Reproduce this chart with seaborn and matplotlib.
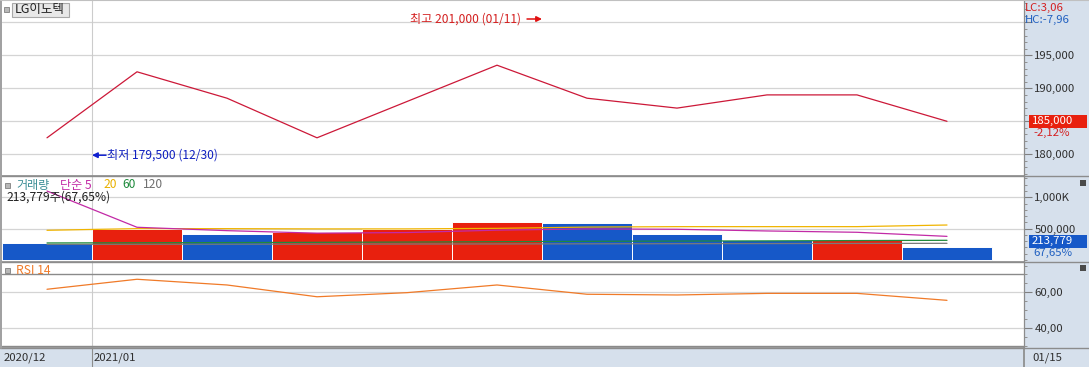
import numpy as np
import pandas as pd
import matplotlib
matplotlib.use('Agg')
import matplotlib.pyplot as plt
import matplotlib.transforms as mtransforms
import seaborn as sns
from matplotlib.ticker import FixedLocator, MultipleLocator
from matplotlib.lines import Line2D
from matplotlib.patches import Rectangle

# ---------------- data ----------------
stock_name = 'LG이노텍'
dates = ['12/30', '01/04', '01/05', '01/06', '01/07', '01/08',
         '01/11', '01/12', '01/13', '01/14', '01/15']
months = ['2020/12', '2021/01', '2021/01', '2021/01', '2021/01', '2021/01',
          '2021/01', '2021/01', '2021/01', '2021/01', '2021/01']
close = [182500, 192500, 188500, 182500, 188000, 193500,
         188500, 187000, 189000, 189000, 185000]
volume = [271000, 500000, 410000, 442000, 490000, 607000,
          591000, 420000, 319000, 316000, 213779]
vol_dir = ['down', 'up', 'down', 'up', 'up', 'up',
           'down', 'down', 'down', 'up', 'down']
ma5 = [1100000, 522000, 468000, 428000, 438000, 476000,
       496000, 490000, 463000, 442000, 377000]
ma20 = [474000, 500000, 500000, 496000, 496000, 505000,
        525000, 532000, 532000, 532000, 558000]
ma60 = [272000, 275000, 278000, 282000, 286000, 292000,
        298000, 302000, 305000, 310000, 314000]
ma120 = [250000, 251000, 252000, 253000, 255000, 256000,
         258000, 260000, 262000, 264000, 266000]
rsi = [61.7, 67.3, 64.1, 57.5, 59.8, 64.1, 58.9, 58.5, 59.4, 59.4, 55.5]

high_val, high_date = 201000, '01/11'
low_val, low_date = 179500, '12/30'
last_change = '-2,12%'
vol_change = '67,65%'
lc_text = 'LC:3,06'
hc_text = 'HC:-7,96'
price_ticks = [180000, 185000, 190000, 195000, 200000]
price_labels = ['180,000', '', '190,000', '195,000', '']
vol_ticks = [500000, 1000000]
vol_labels = ['500,000', '1,000K']
rsi_ticks = [40, 60]
rsi_labels = ['40,00', '60,00']
rsi_levels = [30, 70]
vol_legend = [('거래량', '#3c8e96'), ('단순 5', '#c22aa6'), ('20', '#e8b000'),
              ('60', '#1e8a3c'), ('120', '#707070')]
rsi_title = 'RSI 14'

# ---------------- style ----------------
sns.set_theme(style='white')
plt.rcParams['font.family'] = ['Noto Sans CJK KR', 'DejaVu Sans']
plt.rcParams['axes.unicode_minus'] = False

W, H = 1089, 367
RED = '#e8200e'
BLUE = '#1658c8'
PRICE_C = '#cc1838'
GRID = '#d4d4d4'
BORDER = '#8c8c8c'
BG = '#d6e0ec'
FS = 8.2
FSK = 8.7

fig = plt.figure(figsize=(W / 100, H / 100), dpi=100, facecolor=BG)


def rect(x0, y0, x1, y1):
    return [x0 / W, 1 - y1 / H, (x1 - x0) / W, (y1 - y0) / H]


def fx(px):
    return px / W


def fy(py):
    return 1 - py / H


ax_p = fig.add_axes(rect(2, 0, 1024, 176))
ax_v = fig.add_axes(rect(2, 176, 1024, 262))
ax_r = fig.add_axes(rect(2, 262, 1024, 347.5))
ax_d = fig.add_axes(rect(2, 347.5, 1024, 367))

n = len(dates)
idx = np.arange(n)
xlim = (-0.5, -0.5 + 1022 / 90)

# ---- price panel ----
sns.lineplot(x=idx, y=close, ax=ax_p, color=PRICE_C, linewidth=0.9)
ax_p.set_ylim(176712, 203379)

# ---- volume panel ----
vdf = pd.DataFrame({'date': dates, 'volume': volume, 'dir': vol_dir})
sns.barplot(data=vdf, x='date', y='volume', hue='dir', order=dates,
            palette={'up': RED, 'down': BLUE}, dodge=False, width=1.0,
            edgecolor='white', linewidth=0.7, legend=False, ax=ax_v,
            saturation=1)
ma_df = pd.concat([
    pd.DataFrame({'idx': idx, 'value': ma120, 'series': '120'}),
    pd.DataFrame({'idx': idx, 'value': ma60, 'series': '60'}),
    pd.DataFrame({'idx': idx, 'value': ma20, 'series': '20'}),
    pd.DataFrame({'idx': idx, 'value': ma5, 'series': '5'}),
])
sns.lineplot(data=ma_df, x='idx', y='value', hue='series',
             palette={'5': '#c22aa6', '20': '#f0b400', '60': '#1e8a3c', '120': '#7a7a7a'},
             linewidth=0.9, legend=False, ax=ax_v)
ax_v.set_ylim(-31900, 1339700)

# ---- RSI panel ----
sns.lineplot(x=idx, y=rsi, ax=ax_r, color='#f07a28', linewidth=0.9)
ax_r.set_ylim(29.08, 76.97)
for lv in rsi_levels:
    ax_r.axhline(lv, color='#8a8a8a', lw=1.0, zorder=1)

# ---- common axis styling ----
month_breaks = [i - 0.5 for i in range(1, n) if months[i] != months[i - 1]]
for ax, ticks, labels, minor in [(ax_p, price_ticks, price_labels, 1000),
                                 (ax_v, vol_ticks, vol_labels, 100000),
                                 (ax_r, rsi_ticks, rsi_labels, 5)]:
    ax.set_xlim(*xlim)
    ax.set_facecolor('white')
    ax.set_xlabel('')
    ax.set_ylabel('')
    ax.set_xticks([])
    ax.yaxis.tick_right()
    ax.yaxis.set_major_locator(FixedLocator(ticks))
    ax.set_yticklabels(labels)
    ax.yaxis.set_minor_locator(MultipleLocator(minor))
    ax.tick_params(axis='y', which='major', length=6, width=0.8, color='#808080',
                   pad=1.5, labelsize=FS, labelcolor='#303030', right=True, left=False)
    ax.tick_params(axis='y', which='minor', length=2.5, width=0.7, color='#909090',
                   right=True, left=False)
    for yv in ticks:
        ax.axhline(yv, color=GRID, lw=0.9, zorder=0)
    for xb in month_breaks:
        ax.axvline(xb, color='#cccccc', lw=0.8, zorder=0)
    for s in ['top', 'left']:
        ax.spines[s].set_visible(False)
    ax.spines['right'].set_color(BORDER)
    ax.spines['right'].set_linewidth(0.9)
    ax.spines['bottom'].set_color(BORDER)
    ax.spines['bottom'].set_linewidth(1.2)

# ---- date strip ----
ax_d.set_xlim(*xlim)
ax_d.set_ylim(0, 1)
ax_d.set_facecolor(BG)
ax_d.set_xticks([])
ax_d.set_yticks([])
for s in ['left', 'bottom', 'top']:
    ax_d.spines[s].set_visible(False)
ax_d.spines['right'].set_color(BORDER)
for xb in month_breaks:
    ax_d.axvline(xb, color=BORDER, lw=0.8)
month_starts = [0] + [i for i in range(1, n) if months[i] != months[i - 1]]
for i in month_starts:
    ax_d.text(i - 0.5 + 2 / 90, 0.48, months[i], fontsize=FS, color='#303030',
              ha='left', va='center')
fig.text(fx(1032), fy(357.5), dates[-1], fontsize=FS, color='#303030', va='center')

# ---- separators across the right strip ----
for ypx in [176, 262, 347.5]:
    fig.add_artist(Line2D([fx(0), 1], [fy(ypx), fy(ypx)], color=BORDER, lw=1.0))
fig.add_artist(Line2D([fx(0.7), fx(0.7)], [fy(0), fy(347.5)], color='#a0a0a0', lw=1.4))
fig.add_artist(Line2D([0, 1], [fy(0.4), fy(0.4)], color='#c0c0c0', lw=0.8))

# ---- high / low annotations ----
hi_i = dates.index(high_date)
lo_i = dates.index(low_date)
hi_tr = mtransforms.offset_copy(ax_p.transData, fig=fig, x=0, y=-3.3, units='dots')
lo_tr = mtransforms.offset_copy(ax_p.transData, fig=fig, x=0, y=2.4, units='dots')
ax_p.annotate('', xy=(hi_i - 0.5, high_val), xycoords=hi_tr,
              xytext=(hi_i - 0.5 - 15 / 90, high_val), textcoords=hi_tr,
              arrowprops=dict(arrowstyle='-|>', color='#e01010', lw=1.1,
                              mutation_scale=8, shrinkA=0, shrinkB=0),
              annotation_clip=False)
ax_p.text(hi_i - 0.5 - 21 / 90, high_val, f'최고 {high_val:,} ({high_date})',
          transform=hi_tr, ha='right', va='center', fontsize=FSK, color='#d42020')
ax_p.annotate('', xy=(lo_i + 0.5, low_val), xycoords=lo_tr,
              xytext=(lo_i + 0.5 + 14 / 90, low_val), textcoords=lo_tr,
              arrowprops=dict(arrowstyle='-|>', color='#1020d0', lw=1.1,
                              mutation_scale=8, shrinkA=0, shrinkB=0),
              annotation_clip=False)
ax_p.text(lo_i + 0.5 + 15 / 90, low_val, f'최저 {low_val:,} ({low_date})',
          transform=lo_tr, ha='left', va='center', fontsize=FSK, color='#1020c0')

# ---- name box ----
fig.add_artist(Rectangle((fx(4), fy(12)), 5 / W, 5 / H, transform=fig.transFigure,
                         facecolor='#b8b8b8', edgecolor='#808080', lw=0.6))
fig.add_artist(Rectangle((fx(12), fy(16.5)), 57 / W, 13.5 / H, transform=fig.transFigure,
                         facecolor='#e8e8e8', edgecolor='#a8a8a8', lw=0.8))
fig.text(fx(15), fy(9.8), stock_name, fontsize=9, color='#202020', va='center')

# ---- LC / HC ----
fig.text(fx(1025), fy(8), lc_text, fontsize=FS, color='#d42020', va='center')
fig.text(fx(1025), fy(20), hc_text, fontsize=FS, color='#2060c0', va='center')

# ---- last price box ----
yc = ax_p.transData.transform((0, close[-1]))[1] / fig.bbox.height
fig.add_artist(Rectangle((fx(1029), yc - 6.5 / H), 58 / W, 13 / H,
                         transform=fig.transFigure, facecolor=RED, edgecolor='none'))
fig.text(fx(1032), yc, f'{close[-1]:,}', fontsize=FS, color='white', va='center')
fig.text(fx(1033), yc - 11.5 / H, last_change, fontsize=FS, color='#d42020', va='center')

# ---- last volume box ----
yv = ax_v.transData.transform((0, volume[-1]))[1] / fig.bbox.height + 5.5 / H
fig.add_artist(Rectangle((fx(1029), yv - 6.5 / H), 58 / W, 13 / H,
                         transform=fig.transFigure, facecolor=BLUE, edgecolor='none'))
fig.text(fx(1032), yv, f'{volume[-1]:,}', fontsize=FS, color='white', va='center')
fig.text(fx(1033), yv - 12 / H, vol_change, fontsize=FS, color='#2060c0', va='center')

# ---- close icons ----
for ypx in [180, 265]:
    fig.add_artist(Rectangle((fx(1080), fy(ypx + 6)), 6 / W, 6 / H, transform=fig.transFigure,
                             facecolor='#4a4a4a', edgecolor='none'))

# ---- volume legend ----
fig.add_artist(Rectangle((fx(5), fy(188)), 5 / W, 5 / H, transform=fig.transFigure,
                         facecolor='#b8b8b8', edgecolor='#808080', lw=0.6))
leg_x = [16, 60, 103, 122, 143]
for (txt, col), xp in zip(vol_legend, leg_x):
    fig.text(fx(xp), fy(185), txt, fontsize=FSK, color=col, va='center')
fig.text(fx(6), fy(197), f'{volume[-1]:,}주({vol_change})', fontsize=FSK,
         color='#202020', va='center')

# ---- RSI legend ----
fig.add_artist(Rectangle((fx(5), fy(273)), 5 / W, 5 / H, transform=fig.transFigure,
                         facecolor='#b8b8b8', edgecolor='#808080', lw=0.6))
fig.text(fx(16), fy(270), rsi_title, fontsize=FSK, color='#f07a28', va='center')

fig.savefig('out.png', dpi=100, facecolor=BG)
